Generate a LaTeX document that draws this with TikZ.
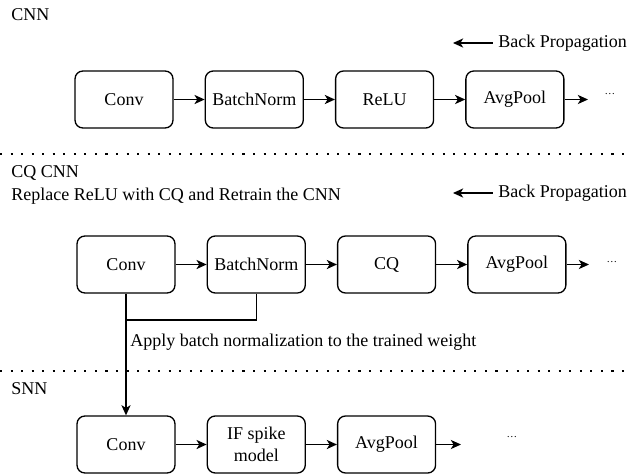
\documentclass[tikz,border=0pt]{standalone}
\usepackage{fontspec}
\setmainfont{Liberation Serif}
\usetikzlibrary{arrows.meta, positioning}

\begin{document}
\begin{tikzpicture}[x=0.02cm, y=-0.02cm, font=\fontsize{10.25}{12.3}\selectfont,
  layer/.style={rectangle, rounded corners=4.5pt, draw, line width=0.75pt, fill=white,
                minimum width=1.96cm, minimum height=1.14cm, align=center, inner sep=1pt},
  lbl/.style={anchor=west, inner sep=0pt},
  more/.style={inner sep=0pt, font=\fontsize{6}{7}\selectfont},
  a/.style={-{Stealth[length=5.8pt, width=5.2pt, inset=1.6pt]}, line width=0.75pt},
  sep/.style={line width=1.2pt, dash pattern=on 1.2pt off 4.8pt}]
  \useasboundingbox (0,0) rectangle (629,474);
  % CNN
  \node[lbl] (tcnn) at (11,15) {CNN};
  \node[lbl] (bp1) at (498,43) {Back Propagation};
  \coordinate (bp1tip) at (453,43);
  \draw[a] ([xshift=-3pt]bp1.west) -- (bp1tip);
  \node[layer] (conv1) at (124,99.5) {Conv};
  \node[layer, right=0.62cm of conv1] (bn1) {BatchNorm};
  \node[layer, right=0.62cm of bn1] (relu1) {ReLU};
  \node[layer, right=0.62cm of relu1] (pool1) {AvgPool};
  \node[more] (dots1) at (610,94) {\ldots};
  \coordinate (end1) at (588,99.5);
  \draw[a] (conv1) -- (bn1);
  \draw[a] (bn1) -- (relu1);
  \draw[a] (relu1) -- (pool1);
  \draw[a] (pool1) -- (end1);
  \draw[sep] (0,154) -- (629,154);
  % CQ CNN
  \node[lbl] (tcq) at (11,173) {CQ CNN};
  \node[lbl] (tre) at (11,196) {Replace ReLU with CQ and Retrain the CNN};
  \node[lbl] (bp2) at (498,193) {Back Propagation};
  \coordinate (bp2tip) at (453,193);
  \draw[a] ([xshift=-3pt]bp2.west) -- (bp2tip);
  \node[layer] (conv2) at (126,264.5) {Conv};
  \node[layer, right=0.62cm of conv2] (bn2) {BatchNorm};
  \node[layer, right=0.62cm of bn2] (cq2) {CQ};
  \node[layer, right=0.62cm of cq2] (pool2) {AvgPool};
  \node[more] (dots2) at (612,262) {\ldots};
  \coordinate (end2) at (589,264.5);
  \draw[a] (conv2) -- (bn2);
  \draw[a] (bn2) -- (cq2);
  \draw[a] (cq2) -- (pool2);
  \draw[a] (pool2) -- (end2);
  % folding batch norm into the weights
  \coordinate (join) at (126,320);
  \draw[line width=0.75pt] (bn2.south) |- (join);
  \node[lbl] (tapply) at (130,342) {Apply batch normalization to the trained weight};
  \draw[sep] (0,371) -- (629,371);
  % SNN
  \node[lbl] (tsnn) at (11,389) {SNN};
  \node[layer] (conv3) at (126,444.5) {Conv};
  \node[layer, right=0.62cm of conv3] (if3) {IF spike\\model};
  \node[layer, right=0.62cm of if3] (pool3) {AvgPool};
  \node[more] (dots3) at (512,437) {\ldots};
  \coordinate (end3) at (461,444.5);
  \draw[a] (conv3) -- (if3);
  \draw[a] (if3) -- (pool3);
  \draw[a] (pool3) -- (end3);
  \draw[a] (conv2.south) -- (conv3.north);
\end{tikzpicture}
\end{document}
